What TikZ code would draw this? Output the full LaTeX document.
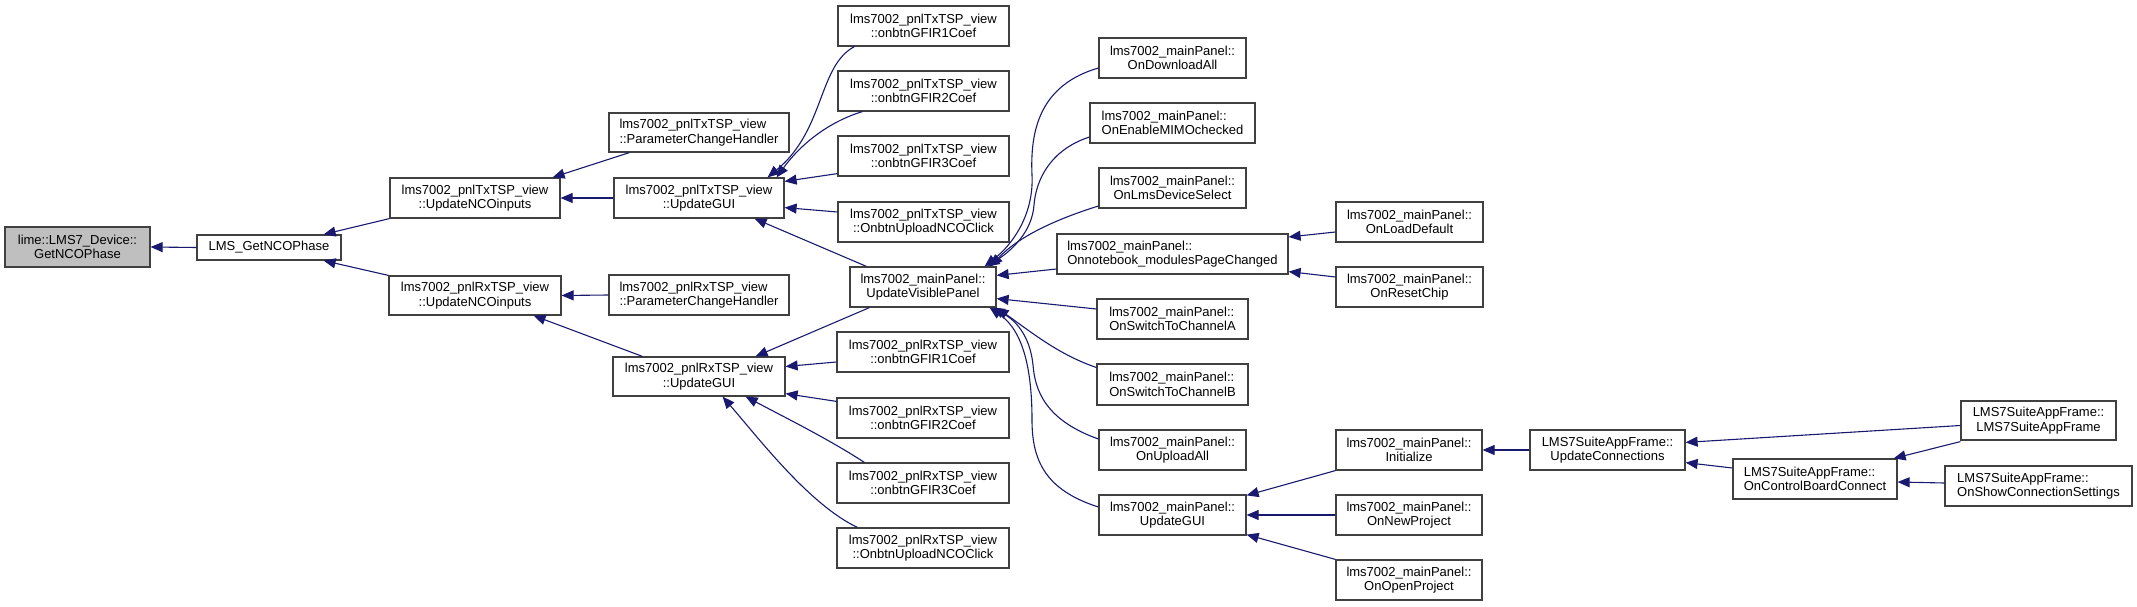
\documentclass[tikz,border=0pt]{standalone}
\usepackage{fontspec}
\setmainfont{Liberation Sans}
\usetikzlibrary{arrows.meta,calc}
\definecolor{boxgray}{HTML}{404040}
\definecolor{edgeblue}{HTML}{191970}
\definecolor{tgtfill}{HTML}{BFBFBF}
\newcommand{\fs}{\fontsize{13}{14.3}\selectfont}
\newcommand{\bnode}[7][]{%
  \pgfmathsetmacro\myBW{#5-#3}\pgfmathsetmacro\myBH{#6-#4}%
  \node[box,#1,minimum width=\myBW pt,minimum height=\myBH pt] (#2) at ({(#3+#5)/2},{(#4+#6)/2}) {#7};}
\begin{document}
\begin{tikzpicture}[x=1pt,y=-1pt,
  box/.style={draw=boxgray,fill=white,line width=1.2pt,inner sep=0pt,align=center,font=\fs},
  lft/.style={align=left},
  edge/.style={draw=edgeblue,line width=1.1pt,-{Triangle[length=12pt,width=10pt]}}]
\useasboundingbox (0,0) rectangle (2137,607);
% nodes
\bnode[fill=tgtfill]{tgt}{5}{227}{150}{267}{lime::LMS7\_Device::\\GetNCOPhase}
\bnode{lms}{197}{235}{341}{260}{LMS\_GetNCOPhase}
\bnode{txnco}{390}{178}{560}{218}{lms7002\_pnlTxTSP\_view\\::UpdateNCOinputs}
\bnode{rxnco}{389}{276}{561}{315}{lms7002\_pnlRxTSP\_view\\::UpdateNCOinputs}
\bnode[lft]{txpch}{609}{113}{789}{152}{lms7002\_pnlTxTSP\_view\\::ParameterChangeHandler}
\bnode{txgui}{614}{178}{784}{218}{lms7002\_pnlTxTSP\_view\\::UpdateGUI}
\bnode[lft]{rxpch}{609}{275}{789}{315}{lms7002\_pnlRxTSP\_view\\::ParameterChangeHandler}
\bnode{rxgui}{613}{357}{785}{396}{lms7002\_pnlRxTSP\_view\\::UpdateGUI}
\bnode{txg1}{838}{6}{1009}{46}{lms7002\_pnlTxTSP\_view\\::onbtnGFIR1Coef}
\bnode{txg2}{838}{71}{1009}{111}{lms7002\_pnlTxTSP\_view\\::onbtnGFIR2Coef}
\bnode{txg3}{838}{136}{1009}{176}{lms7002\_pnlTxTSP\_view\\::onbtnGFIR3Coef}
\bnode{txup}{838}{202}{1009}{242}{lms7002\_pnlTxTSP\_view\\::OnbtnUploadNCOClick}
\bnode{uvp}{850}{267}{996}{307}{lms7002\_mainPanel::\\UpdateVisiblePanel}
\bnode{rxg1}{837}{332}{1009}{372}{lms7002\_pnlRxTSP\_view\\::onbtnGFIR1Coef}
\bnode{rxg2}{837}{398}{1009}{438}{lms7002\_pnlRxTSP\_view\\::onbtnGFIR2Coef}
\bnode{rxg3}{837}{463}{1009}{503}{lms7002\_pnlRxTSP\_view\\::onbtnGFIR3Coef}
\bnode{rxup}{837}{528}{1009}{568}{lms7002\_pnlRxTSP\_view\\::OnbtnUploadNCOClick}
\bnode{dl}{1099}{38}{1246}{78}{lms7002\_mainPanel::\\OnDownloadAll}
\bnode[lft]{mimo}{1090}{103}{1255}{143}{lms7002\_mainPanel::\\OnEnableMIMOchecked}
\bnode{lmsdev}{1099}{168}{1246}{208}{lms7002\_mainPanel::\\OnLmsDeviceSelect}
\bnode[lft]{nb}{1057}{234}{1288}{274}{lms7002\_mainPanel::\\Onnotebook\_modulesPageChanged}
\bnode[lft]{cha}{1097}{299}{1248}{339}{lms7002\_mainPanel::\\OnSwitchToChannelA}
\bnode[lft]{chb}{1097}{364}{1248}{405}{lms7002\_mainPanel::\\OnSwitchToChannelB}
\bnode{upall}{1099}{430}{1246}{470}{lms7002\_mainPanel::\\OnUploadAll}
\bnode{mgui}{1099}{495}{1246}{535}{lms7002\_mainPanel::\\UpdateGUI}
\bnode{ld}{1336}{202}{1483}{242}{lms7002\_mainPanel::\\OnLoadDefault}
\bnode{rst}{1336}{267}{1483}{307}{lms7002\_mainPanel::\\OnResetChip}
\bnode{init}{1336}{430}{1482}{470}{lms7002\_mainPanel::\\Initialize}
\bnode{newp}{1336}{495}{1482}{535}{lms7002\_mainPanel::\\OnNewProject}
\bnode{openp}{1336}{560}{1482}{600}{lms7002\_mainPanel::\\OnOpenProject}
\bnode{upc}{1530}{430}{1685}{470}{LMS7SuiteAppFrame::\\UpdateConnections}
\bnode{lmsf}{1961}{401}{2116}{440}{LMS7SuiteAppFrame::\\LMS7SuiteAppFrame}
\bnode[lft]{cbc}{1733}{459}{1897}{499}{LMS7SuiteAppFrame::\\OnControlBoardConnect}
\bnode[lft]{scs}{1945}{466}{2132}{506}{LMS7SuiteAppFrame::\\OnShowConnectionSettings}
% edges
\draw[edge] (lms.west) -- (tgt.east);
\draw[edge] (txnco.south west) -- ($(lms.north east)+(-18,0)$);
\draw[edge] (rxnco.north west) -- ($(lms.south east)+(-18,0)$);
\draw[edge] ($(txpch.south west)+(21,0)$) -- ($(txnco.north east)+(-8,0)$);
\draw[edge] (txgui.west) -- (txnco.east);
\draw[edge] ($(txg1.south west)+(17,0)$) .. controls (818,66) and (825,130) .. ($(txgui.north east)+(-17,0)$);
\draw[edge] ($(txg2.south west)+(25,0)$) .. controls (828,122) and (800,145) .. ($(txgui.north east)+(-8,0)$);
\draw[edge] ($(txg3.south west)+(0,-3)$) -- ($(txgui.north east)+(0,4)$);
\draw[edge] ($(txup.west)+(0,-10)$) -- ($(txgui.south east)+(0,-11)$);
\draw[edge] ($(uvp.north west)+(17,0)$) -- ($(txgui.south east)+(-30,0)$);
\draw[edge] (rxpch.west) -- (rxnco.east);
\draw[edge] ($(rxgui.north west)+(30,0)$) -- ($(rxnco.south east)+(-28,0)$);
\draw[edge] ($(uvp.south west)+(20,0)$) -- ($(rxgui.north east)+(-30,0)$);
\draw[edge] ($(rxg1.west)+(0,10)$) -- ($(rxgui.east)+(0,-10)$);
\draw[edge] ($(rxg2.north west)+(0,4)$) -- ($(rxgui.south east)+(0,-3)$);
\draw[edge] ($(rxg3.north west)+(28,0)$) .. controls (830,440) and (790,420) .. ($(rxgui.south east)+(-40,0)$);
\draw[edge] ($(rxup.north west)+(21,0)$) .. controls (810,505) and (760,440) .. ($(rxgui.south east)+(-63,0)$);
\draw[edge] ($(dl.west)+(0,10)$) .. controls (1040,85) and (1030,130) .. (1032,175) .. controls (1034,215) and (1012,245) .. ($(uvp.north east)+(-12,0)$);
\draw[edge] ($(mimo.west)+(0,14)$) .. controls (1050,150) and (1036,180) .. (1034,205) .. controls (1032,232) and (1012,250) .. ($(uvp.north east)+(-9,0)$);
\draw[edge] ($(lmsdev.west)+(0,18)$) .. controls (1060,218) and (1020,235) .. ($(uvp.north east)+(-6,0)$);
\draw[edge] ($(nb.west)+(0,15)$) -- ($(uvp.north east)+(0,9)$);
\draw[edge] ($(cha.west)+(0,-10)$) -- ($(uvp.south east)+(0,-9)$);
\draw[edge] ($(chb.west)+(0,-17)$) .. controls (1060,355) and (1035,335) .. ($(uvp.south east)+(0,0)$);
\draw[edge] ($(upall.west)+(0,-11)$) .. controls (1045,420) and (1035,390) .. (1033,365) .. controls (1030,335) and (1015,320) .. ($(uvp.south east)+(-4,0)$);
\draw[edge] ($(mgui.west)+(0,-8)$) .. controls (1045,490) and (1032,460) .. (1032,420) .. controls (1032,350) and (1015,325) .. ($(uvp.south east)+(-7,0)$);
\draw[edge] ($(ld.west)+(0,10)$) -- ($(nb.east)+(0,-17)$);
\draw[edge] ($(rst.west)+(0,-10)$) -- ($(nb.south east)+(0,-3)$);
\draw[edge] (init.south west) -- ($(mgui.north east)+(0,1)$);
\draw[edge] (newp.west) -- (mgui.east);
\draw[edge] (openp.north west) -- ($(mgui.south east)+(0,-1)$);
\draw[edge] (upc.west) -- (init.east);
\draw[edge] ($(lmsf.west)+(0,5)$) -- ($(upc.north east)+(0,13)$);
\draw[edge] ($(cbc.west)+(0,-11)$) -- ($(upc.south east)+(0,-8)$);
\draw[edge] ($(lmsf.south west)+(0,1)$) -- ($(cbc.north east)+(-4,0)$);
\draw[edge] ($(scs.west)+(0,-3)$) -- ($(cbc.east)+(0,3)$);
\end{tikzpicture}
\end{document}
